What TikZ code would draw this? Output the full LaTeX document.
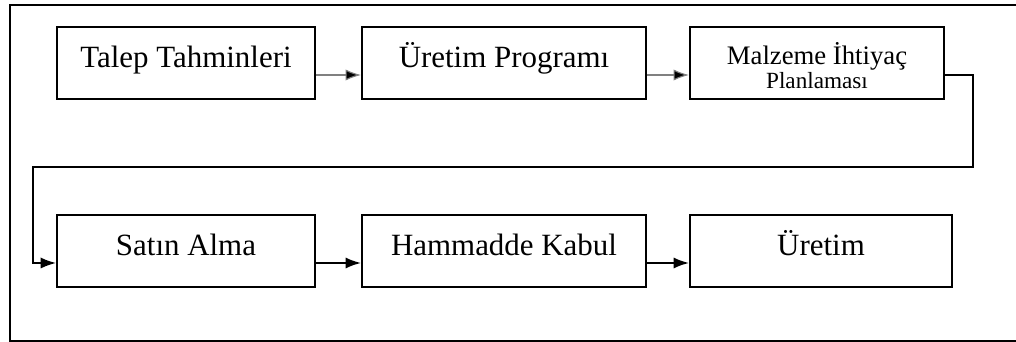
\documentclass[tikz,border=0pt]{standalone}
\usepackage{fontspec}
\setmainfont{Liberation Serif}
\usepackage{tikz}
\usetikzlibrary{arrows.meta}
\usetikzlibrary{positioning}

% kutu icindeki yaziyi biraz asagi al
\newcommand{\kutuyazi}[2][-3pt]{\raisebox{#1}[0pt][0pt]{#2}}

\begin{document}
\begin{tikzpicture}[
	kutu/.style={draw,line width=1.4pt,minimum height=1.8cm,inner sep=0pt,font=\fontsize{22}{26}\selectfont},
	ince/.style={draw=black!50,line width=0.8pt,-{Latex[length=11pt,width=8pt,fill=black]}},
	kalin/.style={line width=1.4pt,-{Latex[length=11pt,width=8pt]}}
	]
	\useasboundingbox (0,0) rectangle (25.4,8.55);
	\draw[line width=1.3pt] (25.8,0.03) -- (0.25,0.03) -- (0.25,8.42) -- (25.8,8.42);
	% ust sira
	\node[kutu,minimum width=6.45cm] (talep) at (4.65,6.975) {\kutuyazi{Talep Tahminleri}};
	\node[kutu,minimum width=7.1cm] (uretprog) at (12.6,6.975) {\kutuyazi{Üretim Programı}};
	\node[kutu,minimum width=6.35cm,font=\fontsize{19}{16.4}\selectfont] (mip) at (20.425,6.975)
		{\kutuyazi[-1.4pt]{\begin{tabular}[t]{@{}c@{}}Malzeme İhtiyaç\\{\fontsize{16.5}{16.4}\selectfont Planlaması}\end{tabular}}};
	% alt sira
	\node[kutu,minimum width=6.45cm] (satin) at (4.65,2.275) {\kutuyazi{Satın Alma}};
	\node[kutu,minimum width=7.1cm] (hamkabul) at (12.6,2.275) {\kutuyazi{Hammadde Kabul}};
	\node[kutu,minimum width=6.55cm] (uretim) at (20.525,2.275) {\kutuyazi{Üretim}};
	\draw[ince] ([yshift=-3mm]talep.east) -- ([yshift=-3mm]uretprog.west);
	\draw[ince] ([yshift=-3mm]uretprog.east) -- ([yshift=-3mm]mip.west);
	% geri donus
	\coordinate (sagdon) at (24.325,4.375);
	\coordinate (soldon) at (0.825,4.375);
	\draw[kalin,line width=1.2pt] ([yshift=-3mm]mip.east) -| (sagdon) -- (soldon) |- ([yshift=-3mm]satin.west);
	\draw[kalin] ([yshift=-3mm]satin.east) -- ([yshift=-3mm]hamkabul.west);
	\draw[kalin] ([yshift=-3mm]hamkabul.east) -- ([yshift=-3mm]uretim.west);
\end{tikzpicture}
\end{document}
